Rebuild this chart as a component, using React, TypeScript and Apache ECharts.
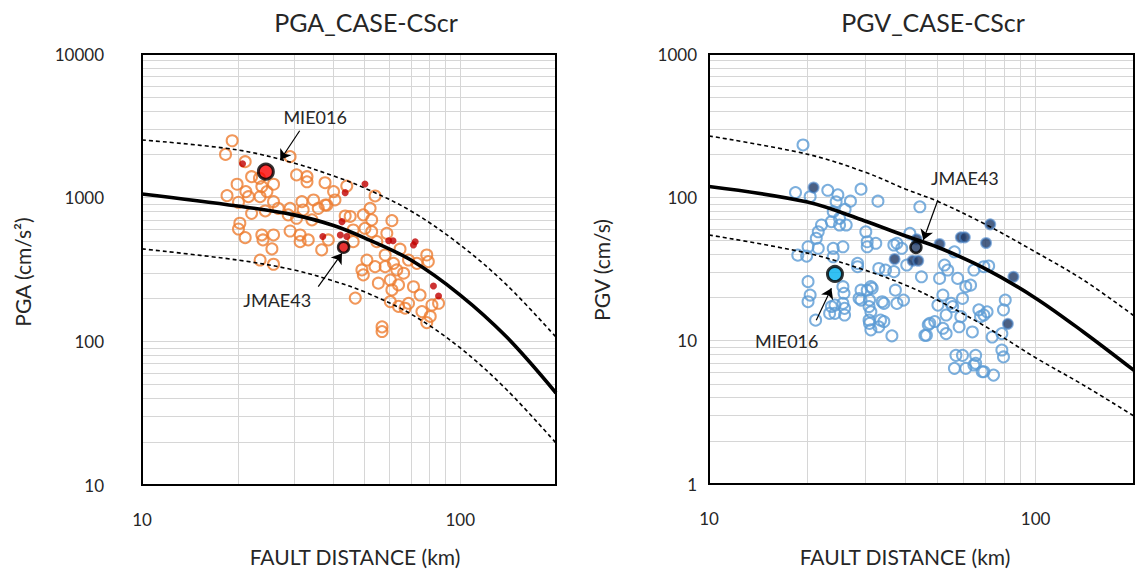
import React, { useEffect, useRef } from "react";
import * as echarts from "echarts";

// Fault distance (km) at which the attenuation curves are sampled
const curveDistances = [10, 20, 30, 40, 50, 70, 100, 140, 200];

// PGA attenuation curve (median, +1 sigma, -1 sigma), cm/s2
const pgaMedian = [1062, 875, 759, 640, 525, 368, 210, 107, 43.7];
const pgaUpper = [2523, 2148, 1742, 1416, 1168, 808, 469, 247, 107];
const pgaLower = [440, 368, 314, 263, 221, 155, 90, 46, 19.6];

// PGV attenuation curve (median, +1 sigma, -1 sigma), cm/s
const pgvMedian = [119, 92.7, 68.4, 53.7, 45.0, 31.8, 19.8, 11.5, 6.2];
const pgvUpper = [268, 200, 150, 114, 94, 65, 41.5, 26.5, 14.9];
const pgvLower = [54.6, 40.8, 31.1, 24.4, 19.2, 12.6, 7.6, 4.9, 2.98];

// Observed PGA [fault distance km, PGA cm/s2]
const pgaObserved: [number, number][] = [
  [19.2, 2490], [18.3, 2000], [21.1, 1780], [29.2, 1930], [22.1, 1400], [23.4, 1365],
  [19.9, 1240], [23.8, 1194], [25.9, 1240], [30.6, 1440], [33.0, 1400], [33.0, 1290],
  [18.5, 1033], [21.2, 1102], [21.6, 1016], [23.5, 1016], [24.7, 1102], [20.1, 929],
  [25.9, 938], [26.8, 843], [22.1, 778], [24.4, 808], [29.2, 843], [31.8, 938],
  [34.6, 964], [32.1, 821], [35.8, 843], [38.1, 889], [28.8, 759], [30.6, 719],
  [34.2, 700], [20.3, 664], [20.1, 605], [21.1, 527], [23.8, 550], [25.9, 550],
  [24.0, 508], [29.2, 586], [31.4, 550], [31.4, 494], [33.3, 508], [25.6, 440],
  [23.5, 368], [25.9, 344], [36.7, 433], [37.6, 1271], [40.0, 1102], [44.0, 1205],
  [40.4, 964], [54.0, 1028], [37.6, 889], [52.1, 843], [43.5, 746], [45.1, 740],
  [49.6, 759], [52.7, 700], [61.0, 692], [46.1, 596], [50.2, 612], [52.7, 580],
  [58.8, 565], [38.5, 508], [46.1, 494], [54.7, 494], [64.7, 438], [50.9, 368],
  [58.1, 399], [49.1, 314], [54.0, 331], [58.1, 331], [61.7, 349], [68.8, 368],
  [73.1, 349], [79.4, 359], [49.6, 290], [55.3, 254], [60.3, 267], [66.4, 298],
  [64.0, 247], [71.3, 240], [74.8, 210], [61.0, 228], [46.8, 200], [60.3, 189],
  [68.8, 184], [67.1, 170], [75.8, 161], [81.5, 179], [85.5, 184], [80.5, 149],
  [78.5, 135], [56.8, 126], [56.8, 117], [64.0, 175], [63.2, 314], [78.5, 399],
];

// PGA records highlighted in red
const pgaHighlighted: [number, number][] = [
  [20.7, 1720], [37.0, 536], [50.2, 1245], [43.5, 1084], [42.5, 681], [42.0, 550],
  [44.0, 536], [59.6, 502], [61.5, 502], [72.2, 494], [71.3, 469], [82.4, 243], [85.5, 207],
];

const pgaMIE016: [number, number] = [24.5, 1517];
const pgaJMAE43: [number, number] = [43.0, 452];

// Observed PGV [fault distance km, PGV cm/s]
const pgvObserved: [number, number][] = [
  [19.4, 232], [18.4, 108], [20.4, 101], [23.1, 112], [24.8, 104], [24.5, 93],
  [27.1, 94], [29.2, 114], [32.9, 94], [24.0, 79.4], [26.1, 82.4], [25.1, 71.3],
  [23.7, 67.6], [22.1, 64.1], [25.1, 64.1], [26.3, 64.1], [21.6, 57.5], [21.3, 51.8],
  [30.2, 57.5], [20.1, 45.2], [21.6, 44.1], [18.7, 39.5], [19.9, 38.9], [24.0, 44.1],
  [25.7, 45.2], [24.0, 38.5], [30.5, 45.2], [32.4, 47.8], [20.1, 25.8], [20.4, 20.8],
  [20.1, 18.7], [25.7, 23.8], [25.9, 21.4], [24.3, 17.7], [26.0, 16.8], [23.4, 15.5],
  [26.0, 15.1], [21.2, 13.9], [28.5, 32.8], [33.1, 31.9], [29.2, 22.5], [31.3, 23.8],
  [29.2, 19.2], [31.0, 19.2], [31.3, 15.9], [33.9, 18.7], [34.3, 13.6], [31.0, 13.2],
  [36.8, 46.5], [36.8, 30.3], [28.8, 19.7], [30.5, 22.5], [31.6, 23.2], [30.9, 17.3],
  [30.9, 13.9], [31.3, 11.9], [33.5, 13.9], [34.3, 18.2], [37.2, 22.5], [37.6, 18.2],
  [39.4, 19.2], [36.3, 10.8], [33.1, 12.5], [34.7, 31.1], [28.5, 34.6], [30.5, 49.0],
  [25.7, 18.2], [23.7, 17.3], [24.3, 15.5], [44.2, 85.9], [41.2, 56.1], [37.6, 47.8],
  [38.9, 44.1], [40.3, 33.7], [44.7, 27.9], [56.4, 41.7], [52.6, 33.7], [53.8, 31.1],
  [50.8, 27.2], [57.7, 27.2], [64.7, 31.1], [69.4, 32.8], [71.8, 33.2], [61.1, 23.8],
  [63.2, 24.4], [59.7, 19.7], [52.0, 20.8], [50.2, 17.7], [55.7, 17.3], [53.2, 15.1],
  [59.0, 14.7], [49.1, 13.6], [46.9, 12.9], [52.0, 12.2], [45.8, 10.9], [53.2, 11.2],
  [58.3, 12.5], [64.0, 11.5], [67.0, 16.4], [69.4, 15.1], [73.6, 10.6], [57.0, 7.9],
  [59.7, 7.9], [65.5, 7.9], [56.4, 6.41], [61.1, 6.41], [64.7, 6.76], [69.4, 6.07],
  [74.3, 5.75], [55.1, 18.2], [47.4, 13.2], [46.3, 10.9], [67.8, 14.7], [79.7, 16.4],
  [80.7, 19.2], [78.8, 11.2], [78.8, 8.6], [79.7, 7.7], [65.5, 6.95], [71.0, 15.9],
  [68.6, 6.07],
];

// PGV records highlighted in dark blue
const pgvHighlighted: [number, number][] = [
  [20.9, 117], [43.2, 51], [42.0, 36.1], [43.7, 36.1], [37.0, 37.1], [50.8, 47.2],
  [59.0, 52.6], [60.7, 52.6], [70.5, 48.0], [72.6, 64.8], [85.5, 27.9], [82.2, 13.1],
];

const pgvMIE016: [number, number] = [24.3, 29.2];
const pgvJMAE43: [number, number] = [43.0, 44.8];

// Station call-outs: label anchor, arrow tail and arrow head (data coordinates)
const pgaCallouts = [
  { name: "MIE016", label: [35.0, 3648], tail: [31.3, 2924], head: [27.2, 1829] },
  { name: "JMAE43", label: [26.6, 194], tail: [35.8, 240], head: [42.5, 410] },
];
const pgvCallouts = [
  { name: "JMAE43", label: [60.7, 136], tail: [50.2, 95.8], head: [45.3, 50.4] },
  { name: "MIE016", label: [17.3, 9.9], tail: [21.3, 13.9], head: [23.7, 23.2] },
];

const xTickLabels = [10, 100];

const FONT = 'Lato, "Open Sans", sans-serif';
const TEXT = "#262626";

// gridline positions of a log axis between its bounds (decades and 2..9 steps)
function logGridValues(min: number, max: number): number[] {
  const out: number[] = [];
  for (let dec = min; dec < max; dec *= 10) {
    for (let m = 1; m <= 9; m++) {
      const v = m * dec;
      if (v > min && v < max) out.push(v);
    }
  }
  return out;
}

function buildPanel(
  idx: number,
  median: number[],
  upper: number[],
  lower: number[],
  yMin: number,
  yMax: number,
  observed: [number, number][],
  highlighted: [number, number][],
  mie: [number, number],
  jmae: [number, number],
  callouts: typeof pgaCallouts,
  colors: { open: string; hi: string; hiBorder: string; hiSize: number; mie: string; jmae: string }
) {
  const pts = (vals: number[]) => curveDistances.map((d, i) => [d, vals[i]]);
  const gridLines = [
    ...logGridValues(10, 200).map((v) => ({ xAxis: v })),
    ...logGridValues(yMin, yMax).map((v) => ({ yAxis: v })),
  ];
  const base = { xAxisIndex: idx, yAxisIndex: idx, silent: true };
  return [
    {
      ...base,
      type: "line",
      data: pts(upper),
      smooth: 0.35,
      symbol: "none",
      z: 4,
      lineStyle: { color: "#000", width: 1.6, type: [4, 3] },
      markLine: {
        silent: true,
        z: 1,
        symbol: "none",
        label: { show: false },
        lineStyle: { color: "#d6d6d6", width: 1, type: "solid" },
        data: gridLines,
      },
    },
    {
      ...base,
      type: "line",
      data: pts(lower),
      smooth: 0.35,
      symbol: "none",
      z: 4,
      lineStyle: { color: "#000", width: 1.6, type: [4, 3] },
    },
    {
      ...base,
      type: "scatter",
      data: observed,
      symbol: "circle",
      symbolSize: 11,
      z: 3,
      itemStyle: { color: "rgba(255,255,255,0)", borderColor: colors.open, borderWidth: 2 },
    },
    {
      ...base,
      type: "scatter",
      data: highlighted,
      symbol: "circle",
      symbolSize: colors.hiSize,
      z: 3,
      itemStyle: { color: colors.hi, borderColor: colors.hiBorder, borderWidth: colors.hiBorder === "none" ? 0 : 2 },
    },
    {
      ...base,
      type: "line",
      data: pts(median),
      smooth: 0.35,
      symbol: "none",
      z: 5,
      lineStyle: { color: "#000", width: 3.6 },
      markLine: {
        silent: true,
        z: 7,
        symbol: ["none", "arrow"],
        symbolSize: 10,
        label: { show: false },
        lineStyle: { color: "#000", width: 1.2, type: "solid" },
        data: callouts.map((c) => [{ coord: c.tail }, { coord: c.head }]),
      },
      markPoint: {
        silent: true,
        z: 7,
        symbol: "circle",
        symbolSize: 1,
        itemStyle: { color: "rgba(0,0,0,0)" },
        label: { show: true, position: "inside", formatter: "{b}", fontSize: 18, color: TEXT, fontFamily: FONT },
        data: callouts.map((c) => ({ name: c.name, coord: c.label })),
      },
    },
    {
      ...base,
      type: "scatter",
      data: [jmae],
      symbol: "circle",
      symbolSize: 11,
      z: 6,
      itemStyle: { color: colors.jmae, borderColor: "#000", borderWidth: 2.5 },
    },
    {
      ...base,
      type: "scatter",
      data: [mie],
      symbol: "circle",
      symbolSize: 15,
      z: 6,
      itemStyle: { color: colors.mie, borderColor: "#000", borderWidth: 3 },
    },
  ];
}

function axisCommon() {
  return {
    type: "log",
    logBase: 10,
    axisLine: { show: false },
    axisTick: { show: false },
    splitLine: { show: false },
    minorTick: { show: false },
  };
}

export default function App() {
  const ref = useRef<HTMLDivElement>(null);

  useEffect(() => {
    if (!ref.current) return;
    const chart = echarts.init(ref.current, null, { renderer: "svg" });
    const xLabel = {
      fontSize: 17,
      color: TEXT,
      fontFamily: FONT,
      margin: 26,
      formatter: (v: number) => (xTickLabels.includes(Math.round(v)) ? String(Math.round(v)) : ""),
    };
    const yLabel = (margin: number) => ({
      fontSize: 17,
      color: TEXT,
      fontFamily: FONT,
      margin,
      formatter: (v: number) => String(Math.round(v)),
    });
    const textStyle = (text: string, size: number) => ({
      text,
      fontSize: size,
      fontFamily: FONT,
      fill: TEXT,
      align: "center",
      verticalAlign: "middle",
    });

    chart.setOption({
      animation: false,
      backgroundColor: "#ffffff",
      grid: [
        { left: 142, top: 54, width: 414, height: 431, show: true, borderColor: "#000", borderWidth: 2, backgroundColor: "rgba(0,0,0,0)", z: 10 },
        { left: 709, top: 54, width: 432, height: 430, show: true, borderColor: "#000", borderWidth: 2, backgroundColor: "rgba(0,0,0,0)", z: 10 },
      ],
      xAxis: [
        { ...axisCommon(), gridIndex: 0, min: 10, max: 200, axisLabel: xLabel },
        { ...axisCommon(), gridIndex: 1, min: 10, max: 200, axisLabel: xLabel },
      ],
      yAxis: [
        { ...axisCommon(), gridIndex: 0, min: 10, max: 10000, axisLabel: yLabel(38) },
        { ...axisCommon(), gridIndex: 1, min: 1, max: 1000, axisLabel: yLabel(12) },
      ],
      graphic: [
        { type: "text", x: 366, y: 22, style: textStyle("PGA_CASE-CScr", 25) },
        { type: "text", x: 933, y: 22, style: textStyle("PGV_CASE-CScr", 25) },
        { type: "text", x: 355, y: 556, style: textStyle("FAULT DISTANCE (km)", 21) },
        { type: "text", x: 905, y: 556, style: textStyle("FAULT DISTANCE (km)", 21) },
        { type: "text", x: 22, y: 272, rotation: Math.PI / 2, style: textStyle("PGA (cm/s²)", 21) },
        { type: "text", x: 601, y: 270, rotation: Math.PI / 2, style: textStyle("PGV (cm/s)", 21) },
      ],
      series: [
        ...buildPanel(0, pgaMedian, pgaUpper, pgaLower, 10, 10000, pgaObserved, pgaHighlighted, pgaMIE016, pgaJMAE43, pgaCallouts, {
          open: "#ED7D31",
          hi: "#C00000",
          hiBorder: "none",
          hiSize: 7,
          mie: "#FF0000",
          jmae: "#E00000",
        }),
        ...buildPanel(1, pgvMedian, pgvUpper, pgvLower, 1, 1000, pgvObserved, pgvHighlighted, pgvMIE016, pgvJMAE43, pgvCallouts, {
          open: "#5B9BD5",
          hi: "#1F3864",
          hiBorder: "rgba(70,130,200,0.75)",
          hiSize: 10,
          mie: "#00B0F0",
          jmae: "#1F3864",
        }),
      ],
    });
    return () => chart.dispose();
  }, []);

  return (
    <div
      ref={ref}
      style={{ position: "absolute", left: 0, top: 0, width: 1137, height: 574, overflow: "hidden" }}
    />
  );
}
